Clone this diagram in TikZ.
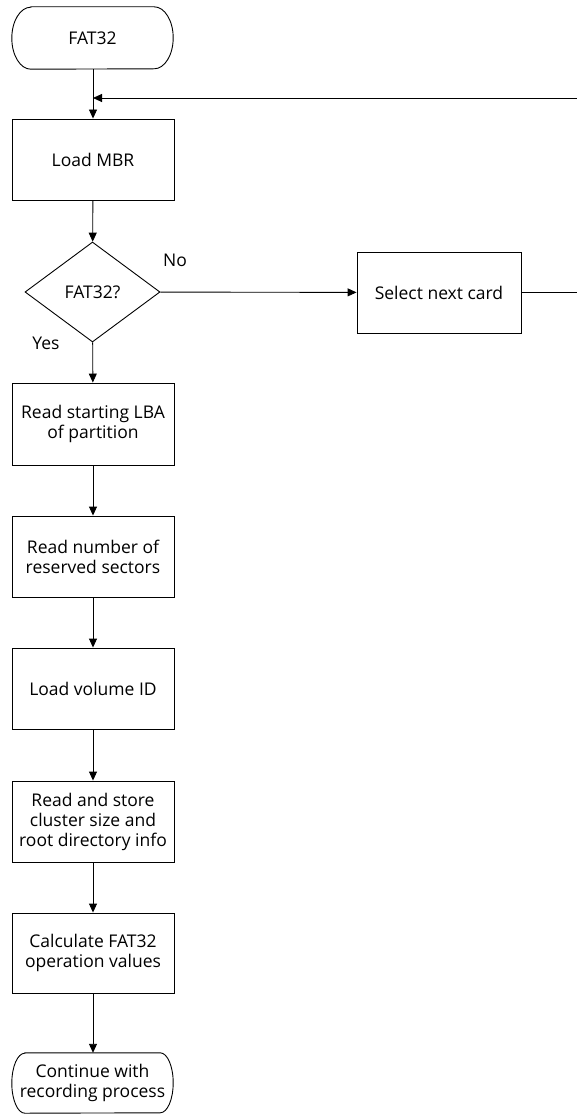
\documentclass[tikz,border=0pt]{standalone}
\usepackage{fontspec}
\setmainfont{Open Sans}
\usetikzlibrary{shapes.geometric,arrows.meta}
\newcommand\termpath[3]{%
  \draw[line width=0.9pt] ([xshift=#2pt]#1.north west) -- ([xshift=-#2pt]#1.north east)
    arc[start angle=-90,end angle=90,x radius=#2,y radius=#3]
    -- ([xshift=#2pt]#1.south west)
    arc[start angle=90,end angle=270,x radius=#2,y radius=#3] -- cycle;}
\begin{document}
\begin{tikzpicture}[x=1pt,y=-1pt,
  txt/.style={font=\fontsize{17.5}{20}\selectfont},
  box/.style={txt,draw,line width=0.9pt,minimum width=162pt,minimum height=81pt,align=center,inner sep=0pt},
  term/.style={txt,minimum width=161pt,align=center,inner sep=0pt},
  dec/.style={txt,draw,line width=0.9pt,diamond,minimum width=135pt,minimum height=100pt,inner sep=0pt},
  lbl/.style={txt},
  arr/.style={line width=0.9pt,-{Triangle[length=9pt,width=8pt]}},
  ln/.style={line width=0.9pt}]
\useasboundingbox (0,0) rectangle (577,1115);
\fill[white] (0,0) rectangle (577,1115);

\node[term,minimum height=62pt] (start) at (92.5,38) {FAT32};
\node[box] (mbr) at (93,159.5) {Load MBR};
\node[dec] (fat) at (92.5,292) {FAT32?};
\node[box,minimum width=164pt] (sel) at (439,292.5) {Select next card};
\node[box,minimum height=82pt] (lba) at (93,424) {Read starting LBA\\of partition};
\node[box] (rsv) at (93,556.5) {Read number of\\reserved sectors};
\node[box] (vol) at (93,688.5) {Load volume ID};
\node[box] (clu) at (93,821.5) {Read and store\\cluster size and\\root directory info};
\node[box,minimum height=80pt] (calc) at (93,953) {Calculate FAT32\\operation values};
\node[term,minimum height=60pt] (end) at (92.5,1083) {Continue with\\recording process};

\termpath{start}{19}{31}
\termpath{end}{13}{30}

\node[lbl] (no) at (175,260) {No};
\node[lbl] (yes) at (46,343) {Yes};

\coordinate (join) at (93,98);
\coordinate (rt) at (581,98);

\draw[arr] (start.south -| mbr.north) -- (mbr.north);
\draw[arr] (mbr) -- (fat);
\draw[arr] (fat) -- (lba);
\draw[arr] (lba) -- (rsv);
\draw[arr] (rsv) -- (vol);
\draw[arr] (vol) -- (clu);
\draw[arr] (clu) -- (calc);
\draw[arr] (calc) -- (end.north -| calc.south);
\draw[arr] (fat) -- (sel);
\draw[arr] (sel.east) -| (rt) -- (join);
\end{tikzpicture}
\end{document}
